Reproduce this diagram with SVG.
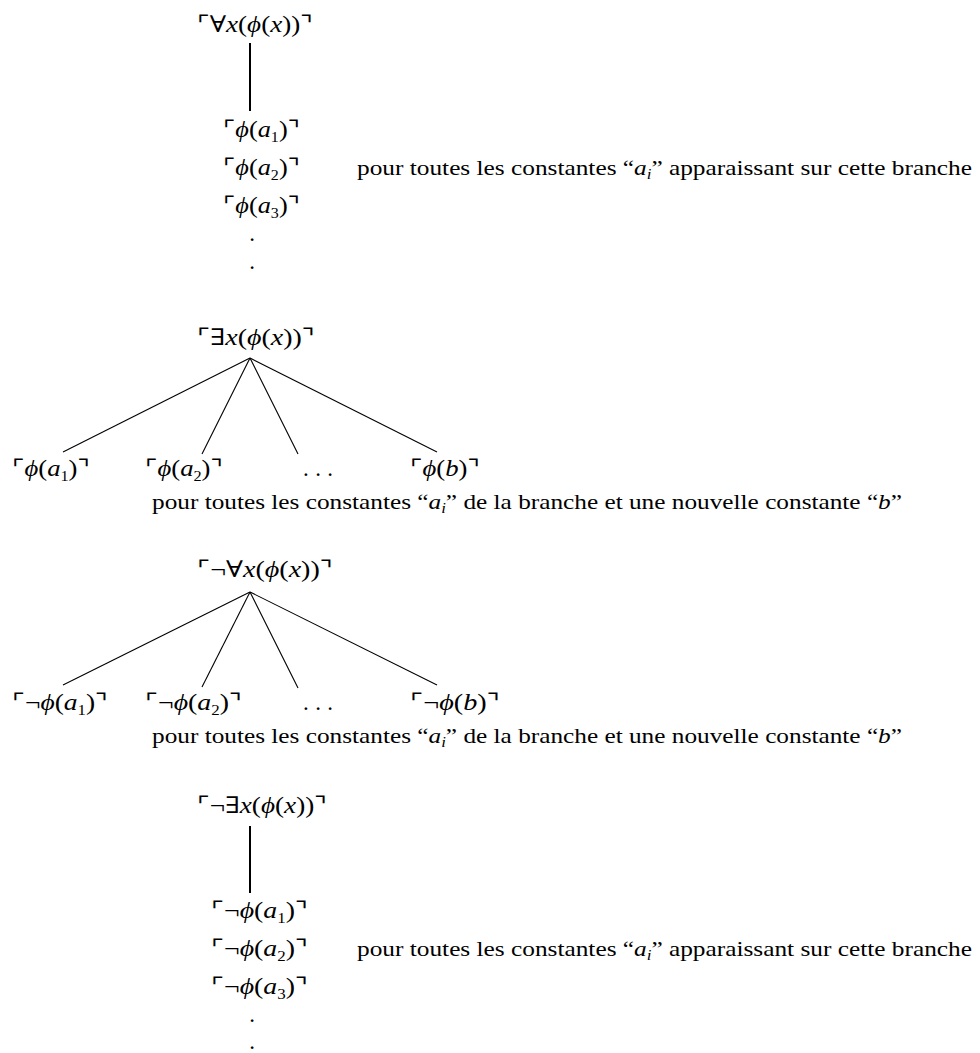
<svg xmlns="http://www.w3.org/2000/svg" width="980" height="1053" viewBox="0 0 980 1053">
<style>
.m { font-family: "Liberation Serif", "DejaVu Serif", "DejaVu Sans", serif; font-size: 23px; fill: #000; }
.it { font-style: italic; }
.sb { font-size: 14px; }
.p { font-family: "Liberation Serif", "DejaVu Serif", serif; font-size: 21px; fill: #000; }
.ln { stroke: #000; stroke-width: 1.1; fill: none; }
.vl { stroke: #000; stroke-width: 2; fill: none; }
</style>
<rect width="980" height="1053" fill="#fff"/>
<g id="connectors">
  <line class="vl" x1="250" y1="43" x2="250" y2="111"/>
  <line class="ln" x1="250" y1="358" x2="63" y2="452"/>
  <line class="ln" x1="250" y1="358" x2="202" y2="454"/>
  <line class="ln" x1="250" y1="358" x2="298" y2="454"/>
  <line class="ln" x1="250" y1="358" x2="437" y2="452"/>
  <line class="ln" x1="250" y1="592" x2="63" y2="685"/>
  <line class="ln" x1="250" y1="592" x2="202" y2="687"/>
  <line class="ln" x1="250" y1="592" x2="298" y2="688"/>
  <line class="ln" x1="250" y1="592" x2="437" y2="685"/>
  <line class="vl" x1="250" y1="826" x2="250" y2="893"/>
</g>
<g id="forall-root"><text class="m" x="197" y="32" textLength="116" lengthAdjust="spacingAndGlyphs">⌜∀<tspan class="it">x</tspan>(<tspan class="it">ϕ</tspan>(<tspan class="it">x</tspan>))⌝</text></g>
<g id="forall-list">
  <text class="m" x="223" y="137" textLength="77" lengthAdjust="spacingAndGlyphs">⌜<tspan class="it">ϕ</tspan>(<tspan class="it">a</tspan><tspan class="sb" dy="5">1</tspan><tspan dy="-5">)⌝</tspan></text>
  <text class="m" x="223" y="175" textLength="77" lengthAdjust="spacingAndGlyphs">⌜<tspan class="it">ϕ</tspan>(<tspan class="it">a</tspan><tspan class="sb" dy="5">2</tspan><tspan dy="-5">)⌝</tspan></text>
  <text class="m" x="223" y="213" textLength="77" lengthAdjust="spacingAndGlyphs">⌜<tspan class="it">ϕ</tspan>(<tspan class="it">a</tspan><tspan class="sb" dy="5">3</tspan><tspan dy="-5">)⌝</tspan></text>
  <text class="m" x="252" y="241" text-anchor="middle">.</text>
  <text class="m" x="252" y="269" text-anchor="middle">.</text>
</g>
<g id="forall-note"><text class="p" x="357" y="175" textLength="615" lengthAdjust="spacingAndGlyphs">pour toutes les constantes “<tspan class="it">a</tspan><tspan class="it sb" dy="4">i</tspan><tspan dy="-4">” apparaissant sur cette branche</tspan></text></g>

<g id="exists-root"><text class="m" x="197" y="345" textLength="118" lengthAdjust="spacingAndGlyphs">⌜∃<tspan class="it">x</tspan>(<tspan class="it">ϕ</tspan>(<tspan class="it">x</tspan>))⌝</text></g>
<g id="exists-a1"><text class="m" x="12" y="476" textLength="78" lengthAdjust="spacingAndGlyphs">⌜<tspan class="it">ϕ</tspan>(<tspan class="it">a</tspan><tspan class="sb" dy="5">1</tspan><tspan dy="-5">)⌝</tspan></text></g>
<g id="exists-a2"><text class="m" x="145" y="476" textLength="78" lengthAdjust="spacingAndGlyphs">⌜<tspan class="it">ϕ</tspan>(<tspan class="it">a</tspan><tspan class="sb" dy="5">2</tspan><tspan dy="-5">)⌝</tspan></text></g>
<g id="exists-dots"><text class="m" x="303" y="476" textLength="30" lengthAdjust="spacing">. . .</text></g>
<g id="exists-b"><text class="m" x="410" y="476" textLength="70" lengthAdjust="spacingAndGlyphs">⌜<tspan class="it">ϕ</tspan>(<tspan class="it">b</tspan>)⌝</text></g>
<g id="exists-note"><text class="p" x="152" y="509" textLength="750" lengthAdjust="spacingAndGlyphs">pour toutes les constantes “<tspan class="it">a</tspan><tspan class="it sb" dy="4">i</tspan><tspan dy="-4">” de la branche et une nouvelle constante “</tspan><tspan class="it">b</tspan>”</text></g>

<g id="notforall-root"><text class="m" x="197" y="577" textLength="136" lengthAdjust="spacingAndGlyphs">⌜¬∀<tspan class="it">x</tspan>(<tspan class="it">ϕ</tspan>(<tspan class="it">x</tspan>))⌝</text></g>
<g id="notforall-a1"><text class="m" x="12" y="710" textLength="96" lengthAdjust="spacingAndGlyphs">⌜¬<tspan class="it">ϕ</tspan>(<tspan class="it">a</tspan><tspan class="sb" dy="5">1</tspan><tspan dy="-5">)⌝</tspan></text></g>
<g id="notforall-a2"><text class="m" x="145" y="710" textLength="97" lengthAdjust="spacingAndGlyphs">⌜¬<tspan class="it">ϕ</tspan>(<tspan class="it">a</tspan><tspan class="sb" dy="5">2</tspan><tspan dy="-5">)⌝</tspan></text></g>
<g id="notforall-dots"><text class="m" x="303" y="710" textLength="30" lengthAdjust="spacing">. . .</text></g>
<g id="notforall-b"><text class="m" x="410" y="710" textLength="90" lengthAdjust="spacingAndGlyphs">⌜¬<tspan class="it">ϕ</tspan>(<tspan class="it">b</tspan>)⌝</text></g>
<g id="notforall-note"><text class="p" x="152" y="743" textLength="750" lengthAdjust="spacingAndGlyphs">pour toutes les constantes “<tspan class="it">a</tspan><tspan class="it sb" dy="4">i</tspan><tspan dy="-4">” de la branche et une nouvelle constante “</tspan><tspan class="it">b</tspan>”</text></g>

<g id="notexists-root"><text class="m" x="197" y="813" textLength="130" lengthAdjust="spacingAndGlyphs">⌜¬∃<tspan class="it">x</tspan>(<tspan class="it">ϕ</tspan>(<tspan class="it">x</tspan>))⌝</text></g>
<g id="notexists-list">
  <text class="m" x="211" y="918" textLength="97" lengthAdjust="spacingAndGlyphs">⌜¬<tspan class="it">ϕ</tspan>(<tspan class="it">a</tspan><tspan class="sb" dy="5">1</tspan><tspan dy="-5">)⌝</tspan></text>
  <text class="m" x="211" y="956" textLength="97" lengthAdjust="spacingAndGlyphs">⌜¬<tspan class="it">ϕ</tspan>(<tspan class="it">a</tspan><tspan class="sb" dy="5">2</tspan><tspan dy="-5">)⌝</tspan></text>
  <text class="m" x="211" y="994" textLength="97" lengthAdjust="spacingAndGlyphs">⌜¬<tspan class="it">ϕ</tspan>(<tspan class="it">a</tspan><tspan class="sb" dy="5">3</tspan><tspan dy="-5">)⌝</tspan></text>
  <text class="m" x="252" y="1022" text-anchor="middle">.</text>
  <text class="m" x="252" y="1049" text-anchor="middle">.</text>
</g>
<g id="notexists-note"><text class="p" x="357" y="956" textLength="615" lengthAdjust="spacingAndGlyphs">pour toutes les constantes “<tspan class="it">a</tspan><tspan class="it sb" dy="4">i</tspan><tspan dy="-4">” apparaissant sur cette branche</tspan></text></g>
</svg>
